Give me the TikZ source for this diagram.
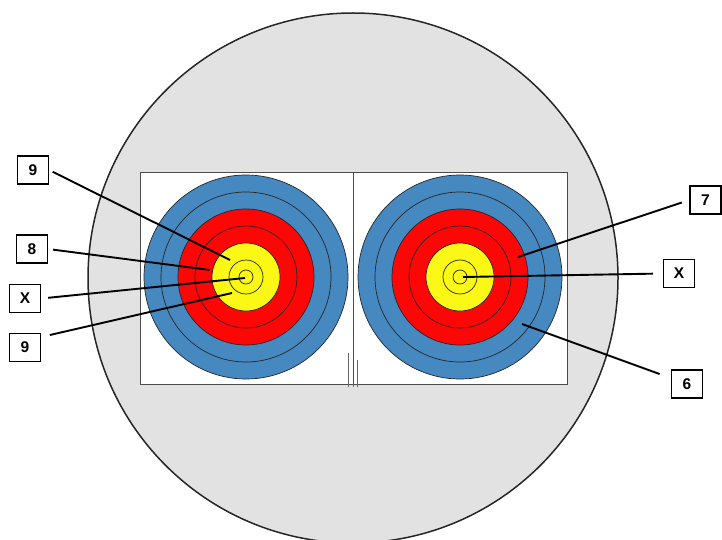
\documentclass[tikz,border=0pt]{standalone}
\usepackage{fontspec}
\setmainfont{Liberation Sans}
\definecolor{ringblue}{RGB}{70, 136, 192}
\definecolor{ringred}{RGB}{252, 6, 6}
\definecolor{ringyellow}{RGB}{250, 248, 20}
\definecolor{facegray}{RGB}{226, 226, 226}
\usetikzlibrary{calc}

\begin{document}
\begin{tikzpicture}[x=1pt, y=-1pt,
    scorebox/.style={draw, fill=white, line width=1.2pt, minimum width=31pt, minimum height=28pt,
                     inner sep=0pt, font=\fontsize{15.5}{17}\selectfont\bfseries},
    leader/.style={line width=1.9pt},
    ring/.style={draw=black!85, line width=0.7pt},
    panel/.style={draw=black!70, fill=white, line width=0.7pt},
]
    \useasboundingbox (0,0) rectangle (722,540);
    \clip (0,0) rectangle (722,540);

    % target boss
    \draw[fill=facegray, draw=black!85, line width=1.5pt] (353,278) circle[radius=265pt];

    % the two faces
    \draw[panel] (140,172) rectangle (353,384);
    \draw[panel] (353,172) rectangle (567,384);
    \draw[black!60, line width=0.6pt] (348,353) -- (348,387);
    \draw[black!60, line width=0.6pt] (353,384) -- (353,387);
    \draw[black!60, line width=0.6pt] (357.5,360) -- (357.5,387);

    \foreach \cx in {246,460} {
        \foreach \r/\c in {102/ringblue, 85/ringblue, 68/ringred, 51/ringred,
                           34/ringyellow, 17/ringyellow, 7/ringyellow}
            \draw[ring, fill=\c] (\cx,277) circle[radius=\r pt];
    }

    % arrow hits
    \coordinate (hit9a) at (230,260);
    \coordinate (hit8) at (210,270);
    \coordinate (hitXl) at (245,278);
    \coordinate (hit9b) at (232,293);
    \coordinate (hit7) at (518,257);
    \coordinate (hitXr) at (463,277);
    \coordinate (hit6) at (522,324);

    % scores
    \node[scorebox] (lbl9a) at (33,170) {9};
    \node[scorebox] (lbl8) at (32,249) {8};
    \node[scorebox] (lblXl) at (25,298.5) {X};
    \node[scorebox] (lbl9b) at (25,347.5) {9};
    \node[scorebox] (lbl7) at (705.5,200) {7};
    \node[scorebox] (lblXr) at (679,273.5) {X};
    \node[scorebox] (lbl6) at (687,384) {6};

    \draw[leader, shorten <=4pt] (lbl9a.east) -- (hit9a);
    \draw[leader, shorten <=5pt] (lbl8.east) -- (hit8);
    \draw[leader, shorten <=7pt] (lblXl.east) -- (hitXl);
    \draw[leader, shorten <=9pt] (lbl9b.33) -- (hit9b);
    \draw[leader, shorten <=8pt] (lbl7.west) -- (hit7);
    \draw[leader, shorten <=10pt] (lblXr.west) -- (hitXr);
    \draw[leader, shorten <=12pt] (lbl6.160) -- (hit6);
\end{tikzpicture}
\end{document}
